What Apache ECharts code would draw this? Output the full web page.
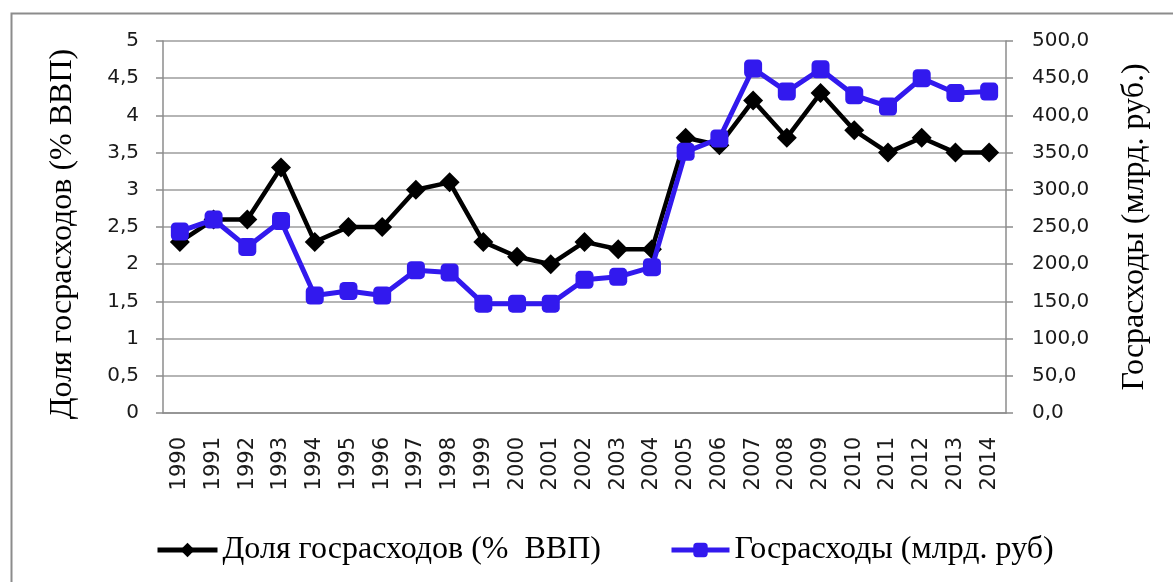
<!DOCTYPE html>
<html>
<head>
<meta charset="utf-8">
<script src="https://cdn.jsdelivr.net/npm/echarts@6/dist/echarts.min.js"></script>
<style>html,body{margin:0;padding:0;background:#fff}#c{width:1173px;height:582px}</style>
</head>
<body>
<div id="c"></div>
<script>
const years = ['1990','1991','1992','1993','1994','1995','1996','1997','1998','1999','2000','2001','2002','2003','2004','2005','2006','2007','2008','2009','2010','2011','2012','2013','2014'];
const shareGDP = [2.3,2.6,2.6,3.3,2.3,2.5,2.5,3.0,3.1,2.3,2.1,2.0,2.3,2.2,2.2,3.7,3.6,4.2,3.7,4.3,3.8,3.5,3.7,3.5,3.5];
const spending = [244,260,223,258,158,164,158,192,189,147,147,147,179,183,196,351,369,463,432,462,427,412,450,430,432];
const seriesNames = ['Доля госрасходов (%  ВВП)','Госрасходы (млрд. руб)'];
const leftAxisName = 'Доля госрасходов (% ВВП)';
const rightAxisName = 'Госрасходы (млрд. руб.)';

const chart = echarts.init(document.getElementById('c'));
const tickFont = {fontFamily:'DejaVu Sans', fontSize:20, color:'#1a1a1a'};
const serif = 'Liberation Serif';
const legendText = {fontFamily:serif, fontSize:32, color:'#000'};
chart.setOption({
  animation:false,
  backgroundColor:'#fff',
  graphic:[{type:'rect', left:9, top:11, shape:{width:1200, height:620}, style:{fill:'none', stroke:'#8c8c8c', lineWidth:2}, silent:true}],
  grid:{left:163, right:167, top:41, bottom:169},
  legend:[{
    bottom:11, left:150, itemGap:5, itemWidth:60, itemHeight:18,
    lineStyle:{width:5}, textStyle:legendText, data:[seriesNames[0]]
  },{
    bottom:11, left:664, itemGap:5, itemWidth:58, itemHeight:18,
    lineStyle:{width:5}, textStyle:legendText, data:[seriesNames[1]]
  }],
  xAxis:{
    type:'category', data:years, boundaryGap:true,
    axisLine:{lineStyle:{color:'#8c8c8c', width:1.5}},
    axisTick:{length:8, lineStyle:{color:'#8c8c8c', width:1.5}},
    axisLabel:Object.assign({rotate:90, margin:24, interval:0}, tickFont, {fontSize:21})
  },
  yAxis:[{
    type:'value', min:0, max:5, interval:0.5, position:'left',
    name:leftAxisName, nameLocation:'middle', nameRotate:90, nameGap:84,
    nameTextStyle:{fontFamily:serif, fontSize:32, color:'#000', padding:[0,14,0,0]},
    axisLine:{show:true, lineStyle:{color:'#8c8c8c', width:1.5}},
    axisTick:{show:true, length:7, lineStyle:{color:'#8c8c8c', width:1.5}},
    splitLine:{lineStyle:{color:'#9c9c9c', width:1.5}},
    axisLabel:Object.assign({margin:24, formatter:v=>String(v).replace('.',',')}, tickFont)
  },{
    type:'value', min:0, max:500, interval:50, position:'right',
    name:rightAxisName, nameLocation:'middle', nameRotate:90, nameGap:113,
    nameTextStyle:{fontFamily:serif, fontSize:32, color:'#000'},
    axisLine:{show:true, lineStyle:{color:'#8c8c8c', width:1.5}},
    axisTick:{show:true, length:7, lineStyle:{color:'#8c8c8c', width:1.5}},
    splitLine:{show:false},
    axisLabel:Object.assign({margin:26, formatter:v=>v.toFixed(1).replace('.',',')}, tickFont)
  }],
  series:[{
    name:seriesNames[0], type:'line', yAxisIndex:0, data:shareGDP,
    symbol:'diamond', symbolSize:20, showAllSymbol:true,
    lineStyle:{color:'#000', width:4.5}, itemStyle:{color:'#000'}, z:2
  },{
    name:seriesNames[1], type:'line', yAxisIndex:1, data:spending,
    symbol:'roundRect', symbolSize:18, showAllSymbol:true,
    lineStyle:{color:'#3219EE', width:5}, itemStyle:{color:'#3219EE'}, z:3
  }]
});
</script>
</body>
</html>
